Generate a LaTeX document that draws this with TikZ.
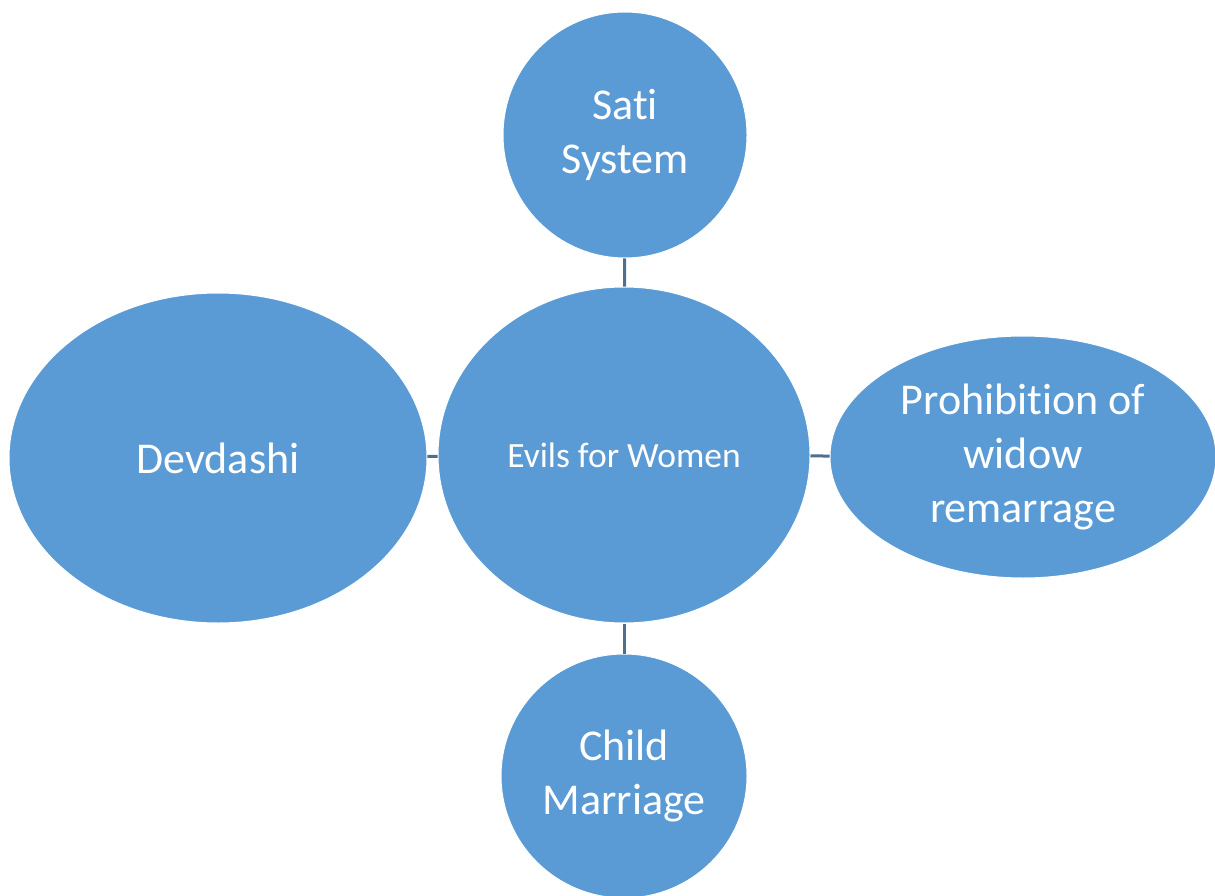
\documentclass[tikz,border=0pt]{standalone}
\usepackage{fontspec}
\setmainfont[Ligatures=NoCommon]{Carlito}
\usetikzlibrary{shapes.geometric}
\definecolor{bubble}{HTML}{5B9BD5}
\definecolor{link}{HTML}{4F6F8F}
\tikzset{
  bubble/.style={ellipse, fill=bubble, draw=white, line width=1pt, inner sep=0pt,
    text=white, align=center, font=\fontsize{44}{54}\selectfont},
  linkline/.style={draw=link, line width=3pt}
}
\begin{document}
\begin{tikzpicture}[x=1pt,y=-1pt]
\useasboundingbox (0,0) rectangle (1215,896);
\node[bubble, minimum width=372pt, minimum height=336pt, font=\fontsize{35.5}{42}\selectfont] (evils) at (624,455) {Evils for Women};
\node[bubble, minimum width=244pt, minimum height=246pt] (sati) at (625,135) {Sati\\System};
\node[bubble, minimum width=418pt, minimum height=330pt] (dev) at (218,458) {Devdashi};
\node[bubble, minimum width=386pt, minimum height=242pt] (widow) at (1023,457) {Prohibition of\\widow\\remarrage};
\node[bubble, minimum width=246pt, minimum height=244pt] (child) at (624,776) {Child\\Marriage};
\draw[linkline] (sati) -- (evils);
\draw[linkline] (evils) -- (child);
\draw[linkline] (dev) -- (evils);
\draw[linkline] (evils) -- (widow);
\end{tikzpicture}
\end{document}
